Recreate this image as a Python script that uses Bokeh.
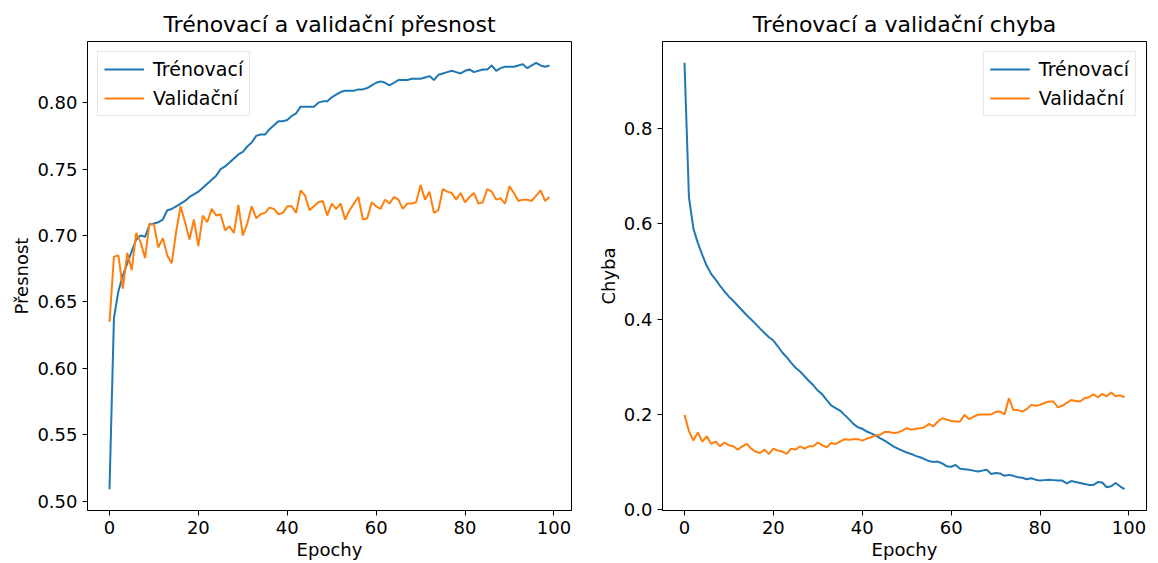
from bokeh.plotting import figure
from bokeh.layouts import row
from bokeh.models import Range1d, FixedTicker, Legend, LegendItem, PrintfTickFormatter
from bokeh.embed import file_html
from bokeh.resources import INLINE

epochs = list(range(100))

train_acc = [0.509, 0.638, 0.658, 0.670, 0.679, 0.688, 0.697, 0.700, 0.699, 0.708,
             0.709, 0.710, 0.712, 0.719, 0.720, 0.722, 0.724, 0.726, 0.729, 0.731,
             0.733, 0.736, 0.739, 0.742, 0.745, 0.750, 0.752, 0.755, 0.758, 0.761,
             0.763, 0.767, 0.770, 0.775, 0.776, 0.776, 0.780, 0.783, 0.786, 0.786,
             0.787, 0.790, 0.792, 0.797, 0.797, 0.797, 0.797, 0.800, 0.801, 0.801,
             0.804, 0.806, 0.808, 0.809, 0.809, 0.809, 0.810, 0.810, 0.811, 0.813,
             0.815, 0.816, 0.815, 0.813, 0.815, 0.817, 0.817, 0.817, 0.818, 0.818,
             0.818, 0.819, 0.820, 0.817, 0.821, 0.822, 0.823, 0.824, 0.823, 0.822,
             0.824, 0.825, 0.823, 0.824, 0.825, 0.825, 0.828, 0.824, 0.826, 0.827,
             0.827, 0.827, 0.828, 0.829, 0.826, 0.828, 0.830, 0.828, 0.827, 0.828]

val_acc = [0.635, 0.684, 0.685, 0.660, 0.687, 0.674, 0.702, 0.695, 0.683, 0.709,
           0.708, 0.691, 0.698, 0.685, 0.679, 0.703, 0.722, 0.710, 0.697, 0.712,
           0.692, 0.715, 0.710, 0.720, 0.715, 0.716, 0.704, 0.707, 0.702, 0.723,
           0.700, 0.709, 0.722, 0.713, 0.716, 0.717, 0.721, 0.720, 0.716, 0.717,
           0.722, 0.722, 0.717, 0.734, 0.730, 0.719, 0.722, 0.725, 0.726, 0.715,
           0.724, 0.720, 0.724, 0.712, 0.719, 0.724, 0.729, 0.712, 0.713, 0.725,
           0.722, 0.720, 0.727, 0.724, 0.729, 0.727, 0.720, 0.724, 0.724, 0.725,
           0.738, 0.727, 0.733, 0.717, 0.719, 0.735, 0.733, 0.732, 0.727, 0.732,
           0.725, 0.729, 0.732, 0.724, 0.725, 0.735, 0.733, 0.727, 0.728, 0.724,
           0.737, 0.732, 0.726, 0.727, 0.727, 0.726, 0.730, 0.734, 0.726, 0.729]

train_loss = [0.938, 0.656, 0.590, 0.560, 0.535, 0.512, 0.495, 0.483, 0.470, 0.458,
              0.447, 0.438, 0.428, 0.418, 0.408, 0.399, 0.390, 0.380, 0.371, 0.362,
              0.355, 0.343, 0.330, 0.320, 0.308, 0.298, 0.290, 0.280, 0.270, 0.261,
              0.250, 0.242, 0.230, 0.219, 0.213, 0.208, 0.199, 0.190, 0.180, 0.173,
              0.170, 0.164, 0.160, 0.156, 0.150, 0.145, 0.139, 0.133, 0.128, 0.124,
              0.120, 0.117, 0.113, 0.110, 0.106, 0.102, 0.100, 0.101, 0.097, 0.091,
              0.090, 0.094, 0.086, 0.085, 0.084, 0.082, 0.080, 0.082, 0.084, 0.075,
              0.077, 0.076, 0.071, 0.073, 0.071, 0.068, 0.067, 0.064, 0.066, 0.063,
              0.061, 0.062, 0.063, 0.062, 0.061, 0.061, 0.055, 0.060, 0.058, 0.056,
              0.054, 0.052, 0.052, 0.058, 0.057, 0.047, 0.049, 0.056, 0.049, 0.043]

val_loss = [0.199, 0.165, 0.145, 0.162, 0.143, 0.154, 0.138, 0.143, 0.133, 0.141,
            0.135, 0.133, 0.126, 0.133, 0.138, 0.128, 0.122, 0.119, 0.126, 0.117,
            0.128, 0.124, 0.122, 0.117, 0.128, 0.126, 0.133, 0.128, 0.133, 0.133,
            0.141, 0.135, 0.131, 0.140, 0.138, 0.143, 0.148, 0.147, 0.148, 0.148,
            0.145, 0.149, 0.152, 0.156, 0.157, 0.163, 0.163, 0.161, 0.162, 0.166,
            0.171, 0.168, 0.170, 0.171, 0.173, 0.180, 0.175, 0.185, 0.192, 0.189,
            0.186, 0.185, 0.185, 0.199, 0.190, 0.195, 0.199, 0.200, 0.200, 0.200,
            0.205, 0.206, 0.200, 0.234, 0.209, 0.209, 0.206, 0.211, 0.220, 0.218,
            0.220, 0.224, 0.227, 0.227, 0.215, 0.218, 0.224, 0.230, 0.228, 0.227,
            0.234, 0.236, 0.242, 0.236, 0.243, 0.238, 0.246, 0.238, 0.240, 0.236]

acc_ticks = [0.50, 0.55, 0.60, 0.65, 0.70, 0.75, 0.80]
loss_ticks = [0.0, 0.2, 0.4, 0.6, 0.8]
x_ticks = [0, 20, 40, 60, 80, 100]

labels = ["Trénovací", "Validační"]
BLUE = "#1f77b4"
ORANGE = "#ff7f0e"
FONT = "DejaVu Sans"


def make(title, ylabel, y_tr, y_va, yticks, fmt, loc, bl, br, width):
    lo = min(min(y_tr), min(y_va))
    hi = max(max(y_tr), max(y_va))
    pad = 0.05 * (hi - lo)
    xpad = 0.05 * (max(epochs) - min(epochs))
    p = figure(width=width, height=562, output_backend="svg", toolbar_location=None,
               x_range=Range1d(min(epochs) - xpad, max(epochs) + xpad),
               y_range=Range1d(lo - pad, hi + pad),
               min_border_left=bl, min_border_right=br, min_border_top=41,
               min_border_bottom=50)
    p.title.text = title
    p.title.text_font = FONT
    p.title.text_font_size = "22px"
    p.title.text_font_style = "normal"
    p.title.align = "center"
    p.title.text_color = "#000000"
    p.title.standoff = 9

    r1 = p.line(epochs, y_tr, line_color=BLUE, line_width=2)
    r2 = p.line(epochs, y_va, line_color=ORANGE, line_width=2)

    p.xgrid.visible = False
    p.ygrid.visible = False
    p.outline_line_color = "#000000"
    p.outline_line_width = 1
    p.outline_line_alpha = 1

    for ax in (p.xaxis[0], p.yaxis[0]):
        ax.axis_line_color = "#000000"
        ax.major_tick_line_color = "#000000"
        ax.major_tick_out = 5
        ax.major_tick_in = 0
        ax.minor_tick_line_color = None
        ax.major_label_text_font = FONT
        ax.major_label_text_font_size = "18px"
        ax.major_label_text_color = "#000000"
        ax.major_label_standoff = 5
        ax.axis_label_text_font = FONT
        ax.axis_label_text_font_size = "18px"
        ax.axis_label_text_font_style = "normal"
        ax.axis_label_text_color = "#000000"
        ax.axis_label_standoff = 2

    p.xaxis[0].ticker = FixedTicker(ticks=x_ticks)
    p.xaxis[0].axis_label = "Epochy"
    p.yaxis[0].ticker = FixedTicker(ticks=yticks)
    p.yaxis[0].formatter = PrintfTickFormatter(format=fmt)
    p.yaxis[0].axis_label = ylabel

    legend = Legend(items=[LegendItem(label=labels[0], renderers=[r1]),
                           LegendItem(label=labels[1], renderers=[r2])],
                    location=loc)
    legend.label_text_font = FONT
    legend.label_text_font_size = "19px"
    legend.label_text_color = "#000000"
    legend.glyph_width = 40
    legend.glyph_height = 18
    legend.spacing = 7
    legend.padding = 6
    legend.margin = 10
    legend.label_standoff = 9
    legend.border_line_color = "#cccccc"
    legend.border_line_width = 1
    legend.background_fill_alpha = 0.8
    p.add_layout(legend)
    return p


p1 = make("Trénovací a validační přesnost", "Přesnost", train_acc, val_acc,
          acc_ticks, "%.2f", "top_left", 87, 8, 579)
p2 = make("Trénovací a validační chyba", "Chyba", train_loss, val_loss,
          loss_ticks, "%.1f", "top_right", 83, 12, 579)

layout = row(p1, p2)
open("out.html", "w").write(file_html(layout, INLINE))
